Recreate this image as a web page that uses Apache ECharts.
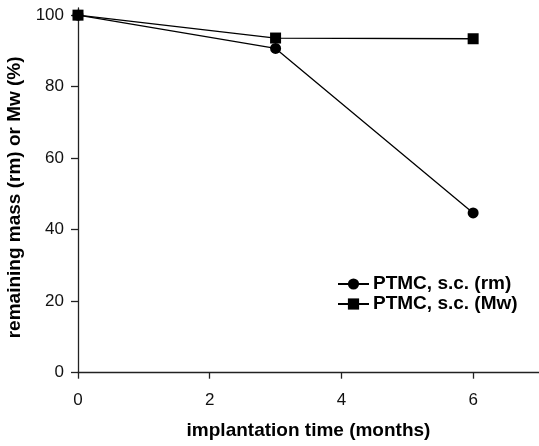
<!DOCTYPE html>
<html>
<head>
<meta charset="utf-8">
<script src="https://cdn.jsdelivr.net/npm/echarts@6/dist/echarts.min.js"></script>
<style>html,body{margin:0;padding:0;background:#fff}#c{width:539px;height:446px}</style>
</head>
<body>
<div id="c"></div>
<script>
const months = [0, 3, 6];
const rmValues = [100, 90.7, 44.7];
const mwValues = [100, 93.6, 93.4];
const xTicks = [0, 2, 4, 6];
const yTicks = [0, 20, 40, 60, 80, 100];
const seriesNames = ['PTMC, s.c. (rm)', 'PTMC, s.c. (Mw)'];

const FONT = 'Liberation Sans, Arial, sans-serif';
const chart = echarts.init(document.getElementById('c'), null, {renderer: 'canvas'});
const axisLine = {show: true, onZero: false, lineStyle: {color: '#222', width: 1.3}};
chart.setOption({
  animation: false,
  backgroundColor: '#fff',
  grid: {left: 78, right: 0, top: 8, bottom: 73.3, containLabel: false, outerBoundsMode: 'none'},
  legend: {
    orient: 'vertical', left: 332, top: 269, itemGap: 0,
    itemWidth: 31, itemHeight: 14,
    textStyle: {fontFamily: FONT, fontSize: 19, fontWeight: 'bold', color: '#000', lineHeight: 20, padding: [0,0,0,-1]},
    data: seriesNames
  },
  xAxis: {
    type: 'value', min: 0, max: 7, interval: 2,
    name: 'implantation time (months)', nameLocation: 'middle', nameGap: 49,
    nameTextStyle: {fontFamily: FONT, fontSize: 19, fontWeight: 'bold', color: '#000'},
    axisLine: axisLine,
    axisTick: {show: true, inside: false, length: 6, customValues: xTicks, lineStyle: {color: '#222', width: 1.3}},
    axisLabel: {customValues: xTicks, margin: 19, fontFamily: FONT, fontSize: 17, color: '#111'},
    splitLine: {show: false}
  },
  yAxis: {
    type: 'value', min: 0, max: 102, interval: 20,
    name: 'remaining mass (rm) or Mw (%)', nameLocation: 'middle', nameGap: 50,
    nameTextStyle: {fontFamily: FONT, fontSize: 19, fontWeight: 'bold', color: '#000', padding: [0, 14, 0, 0]},
    axisLine: axisLine,
    axisTick: {show: true, inside: false, length: 7, customValues: yTicks, lineStyle: {color: '#222', width: 1.3}},
    axisLabel: {customValues: yTicks, margin: 14, fontFamily: FONT, fontSize: 17, color: '#111'},
    splitLine: {show: false}
  },
  series: [
    {
      name: seriesNames[0], type: 'line', symbol: 'circle', symbolSize: 11,
      data: months.map((m, i) => [m, rmValues[i]]),
      lineStyle: {color: '#000', width: 1.3}, itemStyle: {color: '#000'}, z: 3
    },
    {
      name: seriesNames[1], type: 'line', symbol: 'rect', symbolSize: 11,
      data: months.map((m, i) => [m, mwValues[i]]),
      lineStyle: {color: '#000', width: 1.3}, itemStyle: {color: '#000'}, z: 2
    }
  ]
});
</script>
</body>
</html>
